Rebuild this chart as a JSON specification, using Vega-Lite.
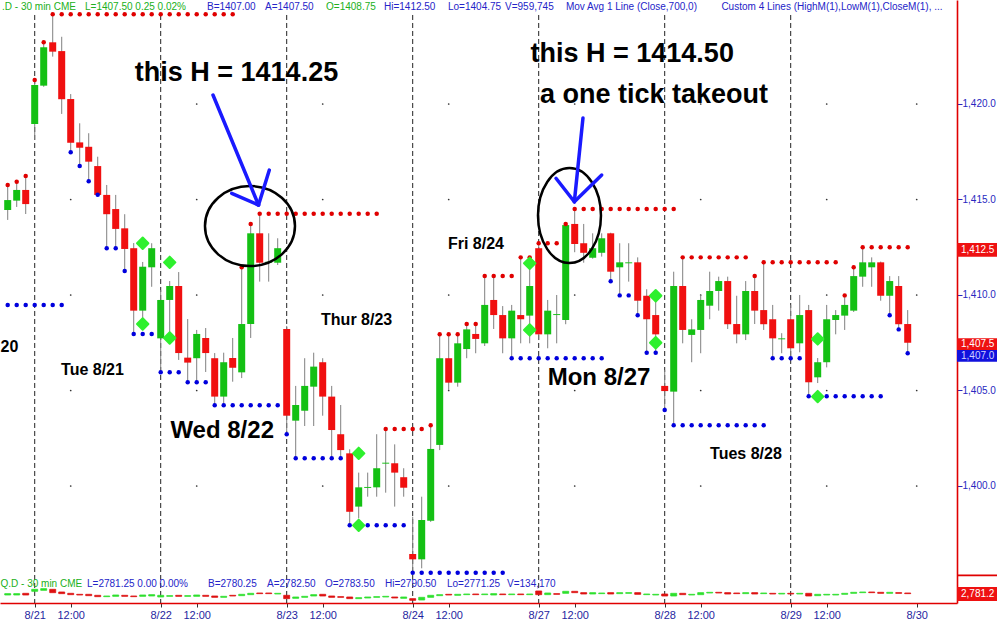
{
"$schema": "https://vega.github.io/schema/vega-lite/v6.json",
"width": 957,
"height": 603,
"autosize": {"type": "none"},
"padding": {"left": 0, "top": 0, "right": 40, "bottom": 19},
"background": "#ffffff",
"config": {"view": {"stroke": null}, "font": "Liberation Sans"},
"datasets": {
"bars": [
{"i":-3,"O":1414.45,"H":1415.76,"L":1413.93,"C":1414.97},
{"i":-2,"O":1414.94,"H":1415.93,"L":1414.61,"C":1415.50},
{"i":-1,"O":1415.50,"H":1416.23,"L":1414.24,"C":1414.76},
{"i":0,"O":1418.95,"H":1421.26,"L":1418.12,"C":1420.99},
{"i":1,"O":1420.96,"H":1423.23,"L":1420.90,"C":1422.97},
{"i":2,"O":1423.23,"H":1424.70,"L":1422.48,"C":1422.74},
{"i":3,"O":1422.77,"H":1423.52,"L":1419.48,"C":1420.25},
{"i":4,"O":1420.26,"H":1420.52,"L":1417.47,"C":1417.97},
{"i":5,"O":1417.99,"H":1418.99,"L":1416.75,"C":1417.71},
{"i":6,"O":1417.76,"H":1418.47,"L":1415.95,"C":1416.98},
{"i":7,"O":1416.75,"H":1417.24,"L":1415.20,"C":1415.24},
{"i":8,"O":1415.24,"H":1415.76,"L":1412.45,"C":1414.23},
{"i":9,"O":1414.50,"H":1415.24,"L":1412.45,"C":1413.46},
{"i":10,"O":1413.49,"H":1414.23,"L":1411.26,"C":1412.41},
{"i":11,"O":1412.45,"H":1412.72,"L":1407.96,"C":1409.18},
{"i":12,"O":1409.18,"H":1411.73,"L":1408.30,"C":1411.48},
{"i":13,"O":1411.45,"H":1412.71,"L":1410.43,"C":1412.45},
{"i":14,"O":1407.73,"H":1410.26,"L":1405.97,"C":1409.74},
{"i":15,"O":1409.74,"H":1410.73,"L":1407.91,"C":1410.47},
{"i":16,"O":1410.47,"H":1411.20,"L":1406.60,"C":1406.96},
{"i":17,"O":1406.72,"H":1408.74,"L":1405.45,"C":1406.46},
{"i":18,"O":1406.69,"H":1408.17,"L":1405.45,"C":1407.96},
{"i":19,"O":1407.75,"H":1408.27,"L":1405.97,"C":1406.96},
{"i":20,"O":1406.69,"H":1406.96,"L":1404.24,"C":1404.68},
{"i":21,"O":1404.68,"H":1406.98,"L":1404.24,"C":1406.48},
{"i":22,"O":1406.70,"H":1407.75,"L":1405.46,"C":1406.19},
{"i":23,"O":1405.95,"H":1411.45,"L":1405.65,"C":1408.48},
{"i":24,"O":1408.48,"H":1413.72,"L":1407.75,"C":1413.23},
{"i":25,"O":1413.23,"H":1414.25,"L":1410.70,"C":1411.69},
{"i":26,"O":1411.69,"H":1413.23,"L":1410.70,"C":1411.74},
{"i":27,"O":1411.69,"H":1412.97,"L":1411.57,"C":1412.45},
{"i":28,"O":1408.22,"H":1408.38,"L":1402.72,"C":1403.68},
{"i":29,"O":1403.42,"H":1405.24,"L":1401.45,"C":1404.24},
{"i":30,"O":1403.94,"H":1406.69,"L":1403.14,"C":1405.24},
{"i":31,"O":1405.20,"H":1406.98,"L":1403.14,"C":1406.25},
{"i":32,"O":1406.48,"H":1406.69,"L":1403.68,"C":1404.68},
{"i":33,"O":1404.68,"H":1405.24,"L":1401.45,"C":1402.93},
{"i":34,"O":1402.71,"H":1404.24,"L":1401.45,"C":1401.88},
{"i":35,"O":1401.71,"H":1401.92,"L":1397.94,"C":1398.65},
{"i":36,"O":1398.92,"H":1400.70,"L":1398.31,"C":1399.93},
{"i":37,"O":1399.90,"H":1400.70,"L":1399.44,"C":1399.95},
{"i":38,"O":1399.93,"H":1402.71,"L":1399.44,"C":1400.93},
{"i":39,"O":1401.17,"H":1402.98,"L":1399.65,"C":1401.22},
{"i":40,"O":1401.19,"H":1402.18,"L":1398.92,"C":1400.70},
{"i":41,"O":1400.46,"H":1400.93,"L":1399.44,"C":1399.91},
{"i":42,"O":1396.44,"H":1398.39,"L":1395.46,"C":1396.16},
{"i":43,"O":1396.16,"H":1399.44,"L":1395.69,"C":1398.22},
{"i":44,"O":1398.18,"H":1403.18,"L":1398.12,"C":1401.94},
{"i":45,"O":1402.15,"H":1407.94,"L":1401.88,"C":1406.69},
{"i":46,"O":1406.69,"H":1407.94,"L":1405.03,"C":1405.41},
{"i":47,"O":1405.41,"H":1407.94,"L":1405.20,"C":1407.47},
{"i":48,"O":1407.17,"H":1408.48,"L":1406.69,"C":1408.20},
{"i":49,"O":1407.96,"H":1408.48,"L":1406.95,"C":1407.70},
{"i":50,"O":1407.47,"H":1410.99,"L":1407.33,"C":1409.48},
{"i":51,"O":1409.74,"H":1410.99,"L":1408.22,"C":1408.95},
{"i":52,"O":1408.95,"H":1409.42,"L":1406.95,"C":1407.73},
{"i":53,"O":1407.73,"H":1409.48,"L":1406.69,"C":1409.18},
{"i":54,"O":1408.95,"H":1411.97,"L":1407.47,"C":1408.73},
{"i":55,"O":1408.92,"H":1411.97,"L":1407.47,"C":1410.47},
{"i":56,"O":1412.45,"H":1412.71,"L":1407.64,"C":1407.94},
{"i":57,"O":1407.94,"H":1409.74,"L":1407.21,"C":1409.18},
{"i":58,"O":1408.95,"H":1410.00,"L":1407.47,"C":1409.00},
{"i":59,"O":1408.69,"H":1413.72,"L":1408.47,"C":1413.66},
{"i":60,"O":1413.72,"H":1414.50,"L":1412.24,"C":1412.67},
{"i":61,"O":1412.71,"H":1413.72,"L":1411.69,"C":1412.21},
{"i":62,"O":1411.95,"H":1413.23,"L":1411.90,"C":1412.45},
{"i":63,"O":1412.21,"H":1413.23,"L":1412.01,"C":1412.97},
{"i":64,"O":1413.23,"H":1413.26,"L":1410.72,"C":1411.22},
{"i":65,"O":1411.45,"H":1412.71,"L":1410.00,"C":1411.71},
{"i":66,"O":1411.66,"H":1412.71,"L":1410.70,"C":1411.71},
{"i":67,"O":1411.71,"H":1411.97,"L":1408.94,"C":1409.70},
{"i":68,"O":1409.96,"H":1410.30,"L":1406.98,"C":1408.73},
{"i":69,"O":1408.95,"H":1409.74,"L":1406.98,"C":1407.94},
{"i":70,"O":1405.24,"H":1406.07,"L":1403.98,"C":1404.97},
{"i":71,"O":1404.94,"H":1411.22,"L":1403.18,"C":1410.47},
{"i":72,"O":1410.47,"H":1411.97,"L":1407.47,"C":1408.17},
{"i":73,"O":1407.91,"H":1408.73,"L":1406.48,"C":1408.20},
{"i":74,"O":1408.17,"H":1410.00,"L":1406.95,"C":1409.74},
{"i":75,"O":1409.44,"H":1411.22,"L":1408.73,"C":1410.21},
{"i":76,"O":1410.21,"H":1410.96,"L":1409.18,"C":1410.73},
{"i":77,"O":1410.73,"H":1410.96,"L":1408.22,"C":1408.47},
{"i":78,"O":1408.48,"H":1409.96,"L":1407.47,"C":1407.94},
{"i":79,"O":1407.94,"H":1410.73,"L":1407.64,"C":1410.21},
{"i":80,"O":1410.21,"H":1410.99,"L":1408.48,"C":1409.18},
{"i":81,"O":1409.21,"H":1411.71,"L":1408.17,"C":1408.47},
{"i":82,"O":1408.73,"H":1409.48,"L":1406.69,"C":1407.73},
{"i":83,"O":1407.68,"H":1408.00,"L":1406.95,"C":1407.73},
{"i":84,"O":1408.73,"H":1409.48,"L":1406.69,"C":1407.21},
{"i":85,"O":1407.47,"H":1410.00,"L":1407.00,"C":1408.95},
{"i":86,"O":1409.21,"H":1409.48,"L":1404.70,"C":1405.43},
{"i":87,"O":1405.69,"H":1406.70,"L":1405.39,"C":1406.48},
{"i":88,"O":1406.48,"H":1409.48,"L":1406.21,"C":1408.73},
{"i":89,"O":1408.69,"H":1409.21,"L":1407.94,"C":1408.95},
{"i":90,"O":1408.92,"H":1409.98,"L":1408.17,"C":1409.48},
{"i":91,"O":1409.18,"H":1411.45,"L":1409.11,"C":1410.99},
{"i":92,"O":1410.96,"H":1412.50,"L":1410.43,"C":1411.71},
{"i":93,"O":1411.45,"H":1411.97,"L":1410.43,"C":1411.71},
{"i":94,"O":1411.71,"H":1411.75,"L":1409.70,"C":1409.96},
{"i":95,"O":1409.96,"H":1410.99,"L":1408.94,"C":1410.73},
{"i":96,"O":1410.47,"H":1410.99,"L":1408.20,"C":1408.47},
{"i":97,"O":1408.48,"H":1409.21,"L":1406.95,"C":1407.50}
],
"nq": [
{"i":-3,"O":2778.33,"C":2780.67},{"i":-2,"O":2778.33,"C":2780.67},{"i":-1,"O":2781.25,"C":2778.33},
{"i":0,"O":2784.75,"C":2788.26},{"i":1,"O":2786.51,"C":2789.43},{"i":2,"O":2788.26,"C":2782.42},
{"i":3,"O":2783.59,"C":2780.67},{"i":4,"O":2781.25,"C":2778.91},{"i":5,"O":2779.50,"C":2778.33},
{"i":6,"O":2779.50,"C":2777.16},{"i":7,"O":2777.75,"C":2775.41},{"i":8,"O":2775.41,"C":2776.58},
{"i":9,"O":2775.99,"C":2778.33},{"i":10,"O":2777.75,"C":2775.99},{"i":11,"O":2776.58,"C":2775.41},
{"i":12,"O":2775.99,"C":2778.33},{"i":13,"O":2776.58,"C":2778.91},{"i":14,"O":2774.83,"C":2777.75},
{"i":15,"O":2775.99,"C":2777.16},{"i":16,"O":2777.75,"C":2775.99},{"i":17,"O":2775.99,"C":2777.16},
{"i":18,"O":2775.99,"C":2778.33},{"i":19,"O":2777.75,"C":2775.99},{"i":20,"O":2776.58,"C":2774.24},
{"i":21,"O":2774.24,"C":2775.99},{"i":22,"O":2777.75,"C":2776.58},{"i":23,"O":2777.16,"C":2779.50},
{"i":24,"O":2778.91,"C":2781.25},{"i":25,"O":2781.83,"C":2780.67},{"i":26,"O":2781.83,"C":2780.67},
{"i":27,"O":2780.08,"C":2781.25},{"i":28,"O":2777.75,"C":2771.91},{"i":29,"O":2772.49,"C":2774.83},
{"i":30,"O":2774.24,"C":2775.99},{"i":31,"O":2776.58,"C":2778.91},{"i":32,"O":2779.50,"C":2776.58},
{"i":33,"O":2776.58,"C":2774.24},{"i":34,"O":2775.41,"C":2774.24},{"i":35,"O":2774.83,"C":2771.91},
{"i":36,"O":2771.91,"C":2773.66},{"i":37,"O":2773.07,"C":2774.83},{"i":38,"O":2774.24,"C":2775.41},
{"i":39,"O":2774.83,"C":2775.99},{"i":40,"O":2774.83,"C":2773.07},{"i":41,"O":2772.49,"C":2774.83},
{"i":42,"O":2771.91,"C":2768.99},{"i":43,"O":2769.57,"C":2774.24},{"i":44,"O":2774.24,"C":2777.75},
{"i":45,"O":2777.16,"C":2778.91},{"i":46,"O":2779.50,"C":2778.33},{"i":47,"O":2777.75,"C":2779.50},
{"i":48,"O":2778.91,"C":2780.08},{"i":49,"O":2780.08,"C":2778.91},{"i":50,"O":2778.91,"C":2780.08},
{"i":51,"O":2778.33,"C":2780.67},{"i":52,"O":2780.08,"C":2778.91},{"i":53,"O":2778.91,"C":2780.08},
{"i":54,"O":2780.08,"C":2778.91},{"i":55,"O":2778.91,"C":2780.08},{"i":56,"O":2785.34,"C":2778.91},
{"i":57,"O":2778.91,"C":2781.83},{"i":58,"O":2780.67,"C":2779.50},{"i":59,"O":2781.25,"C":2784.75},
{"i":60,"O":2784.75,"C":2782.42},{"i":61,"O":2782.42,"C":2780.08},{"i":62,"O":2780.08,"C":2782.42},
{"i":63,"O":2780.67,"C":2781.83},{"i":64,"O":2782.42,"C":2780.08},{"i":65,"O":2780.67,"C":2782.42},
{"i":66,"O":2781.25,"C":2782.42},{"i":67,"O":2782.42,"C":2779.50},{"i":68,"O":2778.91,"C":2780.08},
{"i":69,"O":2778.33,"C":2779.50},{"i":70,"O":2780.08,"C":2776.58},{"i":71,"O":2776.58,"C":2781.25},
{"i":72,"O":2781.25,"C":2778.91},{"i":73,"O":2778.33,"C":2779.50},{"i":74,"O":2778.91,"C":2782.42},
{"i":75,"O":2781.83,"C":2783.00},{"i":76,"O":2783.00,"C":2781.83},{"i":77,"O":2782.42,"C":2780.08},
{"i":78,"O":2781.83,"C":2780.67},{"i":79,"O":2780.67,"C":2782.42},{"i":80,"O":2782.42,"C":2780.08},
{"i":81,"O":2780.67,"C":2781.83},{"i":82,"O":2781.25,"C":2780.08},{"i":83,"O":2780.08,"C":2781.25},
{"i":84,"O":2781.25,"C":2780.08},{"i":85,"O":2780.08,"C":2781.25},{"i":86,"O":2781.25,"C":2776.58},
{"i":87,"O":2777.16,"C":2779.50},{"i":88,"O":2778.33,"C":2779.50},{"i":89,"O":2778.33,"C":2779.50},
{"i":90,"O":2779.50,"C":2781.25},{"i":91,"O":2781.25,"C":2783.00},{"i":92,"O":2782.42,"C":2783.59},
{"i":93,"O":2783.59,"C":2782.42},{"i":94,"O":2783.00,"C":2781.25},{"i":95,"O":2781.25,"C":2783.00},
{"i":96,"O":2782.42,"C":2781.25},{"i":97,"O":2781.83,"C":2780.67}
],
"dots": [
{"i":-3,"p":1415.76,"k":"H"},{"i":-2,"p":1415.93,"k":"H"},{"i":-1,"p":1416.23,"k":"H"},{"i":0,"p":1421.26,"k":"H"},{"i":1,"p":1423.23,"k":"H"},
{"i":2,"p":1424.7,"k":"H"},{"i":3,"p":1424.7,"k":"H"},{"i":4,"p":1424.7,"k":"H"},{"i":5,"p":1424.7,"k":"H"},{"i":6,"p":1424.7,"k":"H"},{"i":7,"p":1424.7,"k":"H"},{"i":8,"p":1424.7,"k":"H"},{"i":9,"p":1424.7,"k":"H"},{"i":10,"p":1424.7,"k":"H"},{"i":11,"p":1424.7,"k":"H"},{"i":12,"p":1424.7,"k":"H"},{"i":13,"p":1424.7,"k":"H"},{"i":14,"p":1424.7,"k":"H"},{"i":15,"p":1424.7,"k":"H"},{"i":16,"p":1424.7,"k":"H"},{"i":17,"p":1424.7,"k":"H"},{"i":18,"p":1424.7,"k":"H"},{"i":19,"p":1424.7,"k":"H"},{"i":20,"p":1424.7,"k":"H"},{"i":21,"p":1424.7,"k":"H"},{"i":22,"p":1424.7,"k":"H"},
{"i":23,"p":1411.45,"k":"H"},{"i":24,"p":1413.72,"k":"H"},
{"i":25,"p":1414.25,"k":"H"},{"i":26,"p":1414.25,"k":"H"},{"i":27,"p":1414.25,"k":"H"},{"i":28,"p":1414.25,"k":"H"},{"i":29,"p":1414.25,"k":"H"},{"i":30,"p":1414.25,"k":"H"},{"i":31,"p":1414.25,"k":"H"},{"i":32,"p":1414.25,"k":"H"},{"i":33,"p":1414.25,"k":"H"},{"i":34,"p":1414.25,"k":"H"},{"i":35,"p":1414.25,"k":"H"},{"i":36,"p":1414.25,"k":"H"},{"i":37,"p":1414.25,"k":"H"},{"i":38,"p":1414.25,"k":"H"},
{"i":39,"p":1402.98,"k":"H"},{"i":40,"p":1402.98,"k":"H"},{"i":41,"p":1402.98,"k":"H"},{"i":42,"p":1402.98,"k":"H"},{"i":43,"p":1402.98,"k":"H"},{"i":44,"p":1403.18,"k":"H"},
{"i":45,"p":1407.94,"k":"H"},{"i":46,"p":1407.94,"k":"H"},{"i":47,"p":1407.94,"k":"H"},{"i":48,"p":1408.48,"k":"H"},{"i":49,"p":1408.48,"k":"H"},
{"i":50,"p":1410.99,"k":"H"},{"i":51,"p":1410.99,"k":"H"},{"i":52,"p":1410.99,"k":"H"},{"i":53,"p":1410.99,"k":"H"},
{"i":54,"p":1411.97,"k":"H"},{"i":55,"p":1411.97,"k":"H"},{"i":56,"p":1412.71,"k":"H"},{"i":57,"p":1412.71,"k":"H"},{"i":58,"p":1412.71,"k":"H"},{"i":59,"p":1413.72,"k":"H"},
{"i":60,"p":1414.5,"k":"H"},{"i":61,"p":1414.5,"k":"H"},{"i":62,"p":1414.5,"k":"H"},{"i":63,"p":1414.5,"k":"H"},{"i":64,"p":1414.5,"k":"H"},{"i":65,"p":1414.5,"k":"H"},{"i":66,"p":1414.5,"k":"H"},{"i":67,"p":1414.5,"k":"H"},{"i":68,"p":1414.5,"k":"H"},{"i":69,"p":1414.5,"k":"H"},{"i":70,"p":1414.5,"k":"H"},{"i":71,"p":1414.5,"k":"H"},
{"i":72,"p":1411.97,"k":"H"},{"i":73,"p":1411.97,"k":"H"},{"i":74,"p":1411.97,"k":"H"},{"i":75,"p":1411.97,"k":"H"},{"i":76,"p":1411.97,"k":"H"},{"i":77,"p":1411.97,"k":"H"},{"i":78,"p":1411.97,"k":"H"},{"i":79,"p":1411.97,"k":"H"},
{"i":80,"p":1410.99,"k":"H"},
{"i":81,"p":1411.71,"k":"H"},{"i":82,"p":1411.71,"k":"H"},{"i":83,"p":1411.71,"k":"H"},{"i":84,"p":1411.71,"k":"H"},{"i":85,"p":1411.71,"k":"H"},{"i":86,"p":1411.71,"k":"H"},{"i":87,"p":1411.71,"k":"H"},{"i":88,"p":1411.71,"k":"H"},{"i":89,"p":1411.71,"k":"H"},
{"i":90,"p":1409.98,"k":"H"},{"i":91,"p":1411.45,"k":"H"},
{"i":92,"p":1412.5,"k":"H"},{"i":93,"p":1412.5,"k":"H"},{"i":94,"p":1412.5,"k":"H"},{"i":95,"p":1412.5,"k":"H"},{"i":96,"p":1412.5,"k":"H"},{"i":97,"p":1412.5,"k":"H"},
{"i":-3,"p":1409.48,"k":"L"},{"i":-2,"p":1409.48,"k":"L"},{"i":-1,"p":1409.48,"k":"L"},{"i":0,"p":1409.48,"k":"L"},{"i":1,"p":1409.48,"k":"L"},{"i":2,"p":1409.48,"k":"L"},{"i":3,"p":1409.48,"k":"L"},
{"i":4,"p":1417.47,"k":"L"},{"i":5,"p":1416.75,"k":"L"},{"i":6,"p":1415.95,"k":"L"},{"i":7,"p":1415.25,"k":"L"},{"i":8,"p":1412.45,"k":"L"},{"i":9,"p":1412.45,"k":"L"},{"i":10,"p":1411.26,"k":"L"},
{"i":11,"p":1407.96,"k":"L"},{"i":12,"p":1407.96,"k":"L"},{"i":13,"p":1407.96,"k":"L"},
{"i":14,"p":1405.95,"k":"L"},{"i":15,"p":1405.95,"k":"L"},{"i":16,"p":1405.95,"k":"L"},
{"i":17,"p":1405.43,"k":"L"},{"i":18,"p":1405.43,"k":"L"},{"i":19,"p":1405.43,"k":"L"},
{"i":20,"p":1404.23,"k":"L"},{"i":21,"p":1404.23,"k":"L"},{"i":22,"p":1404.23,"k":"L"},{"i":23,"p":1404.23,"k":"L"},{"i":24,"p":1404.23,"k":"L"},{"i":25,"p":1404.23,"k":"L"},{"i":26,"p":1404.23,"k":"L"},{"i":27,"p":1404.23,"k":"L"},
{"i":28,"p":1402.71,"k":"L"},
{"i":29,"p":1401.45,"k":"L"},{"i":30,"p":1401.45,"k":"L"},{"i":31,"p":1401.45,"k":"L"},{"i":32,"p":1401.45,"k":"L"},{"i":33,"p":1401.45,"k":"L"},{"i":34,"p":1401.45,"k":"L"},
{"i":35,"p":1397.94,"k":"L"},{"i":36,"p":1397.94,"k":"L"},{"i":37,"p":1397.94,"k":"L"},{"i":38,"p":1397.94,"k":"L"},{"i":39,"p":1397.94,"k":"L"},{"i":40,"p":1397.94,"k":"L"},{"i":41,"p":1397.94,"k":"L"},
{"i":42,"p":1395.46,"k":"L"},{"i":43,"p":1395.46,"k":"L"},{"i":44,"p":1395.46,"k":"L"},{"i":45,"p":1395.46,"k":"L"},{"i":46,"p":1395.46,"k":"L"},{"i":47,"p":1395.46,"k":"L"},{"i":48,"p":1395.46,"k":"L"},{"i":49,"p":1395.46,"k":"L"},{"i":50,"p":1395.46,"k":"L"},{"i":51,"p":1395.46,"k":"L"},{"i":52,"p":1395.46,"k":"L"},
{"i":53,"p":1406.69,"k":"L"},{"i":54,"p":1406.69,"k":"L"},{"i":55,"p":1406.69,"k":"L"},{"i":56,"p":1406.69,"k":"L"},{"i":57,"p":1406.69,"k":"L"},{"i":58,"p":1406.69,"k":"L"},{"i":59,"p":1406.69,"k":"L"},{"i":60,"p":1406.69,"k":"L"},{"i":61,"p":1406.69,"k":"L"},{"i":62,"p":1406.69,"k":"L"},{"i":63,"p":1406.69,"k":"L"},
{"i":64,"p":1410.72,"k":"L"},{"i":65,"p":1409.98,"k":"L"},{"i":66,"p":1409.98,"k":"L"},{"i":67,"p":1408.94,"k":"L"},{"i":68,"p":1406.98,"k":"L"},{"i":69,"p":1406.98,"k":"L"},{"i":70,"p":1403.98,"k":"L"},
{"i":71,"p":1403.18,"k":"L"},{"i":72,"p":1403.18,"k":"L"},{"i":73,"p":1403.18,"k":"L"},{"i":74,"p":1403.18,"k":"L"},{"i":75,"p":1403.18,"k":"L"},{"i":76,"p":1403.18,"k":"L"},{"i":77,"p":1403.18,"k":"L"},{"i":78,"p":1403.18,"k":"L"},{"i":79,"p":1403.18,"k":"L"},{"i":80,"p":1403.18,"k":"L"},{"i":81,"p":1403.18,"k":"L"},
{"i":82,"p":1406.69,"k":"L"},{"i":83,"p":1406.69,"k":"L"},{"i":84,"p":1406.69,"k":"L"},{"i":85,"p":1406.69,"k":"L"},
{"i":86,"p":1404.7,"k":"L"},{"i":87,"p":1404.7,"k":"L"},{"i":88,"p":1404.7,"k":"L"},{"i":89,"p":1404.7,"k":"L"},{"i":90,"p":1404.7,"k":"L"},{"i":91,"p":1404.7,"k":"L"},{"i":92,"p":1404.7,"k":"L"},{"i":93,"p":1404.7,"k":"L"},{"i":94,"p":1404.7,"k":"L"},
{"i":95,"p":1408.94,"k":"L"},{"i":96,"p":1408.2,"k":"L"},{"i":97,"p":1406.95,"k":"L"}
],
"diam": [
{"i":12,"p":1412.71},{"i":12,"p":1408.48},{"i":15,"p":1411.71},{"i":15,"p":1407.75},
{"i":36,"p":1401.71},{"i":36,"p":1397.94},{"i":55,"p":1411.66},{"i":55,"p":1408.17},
{"i":69,"p":1409.96},{"i":69,"p":1407.5},{"i":87,"p":1407.7},{"i":87,"p":1404.68}
],
"days": [{"i":0},{"i":14},{"i":28},{"i":42},{"i":56},{"i":70},{"i":84}],
"grid": [
{"i":4,"p":1400},{"i":4,"p":1405},{"i":4,"p":1410},{"i":4,"p":1415},{"i":4,"p":1420},
{"i":18,"p":1400},{"i":18,"p":1405},{"i":18,"p":1410},{"i":18,"p":1415},{"i":18,"p":1420},
{"i":32,"p":1400},{"i":32,"p":1405},{"i":32,"p":1410},{"i":32,"p":1415},{"i":32,"p":1420},
{"i":46,"p":1400},{"i":46,"p":1405},{"i":46,"p":1410},{"i":46,"p":1415},{"i":46,"p":1420},
{"i":60,"p":1400},{"i":60,"p":1405},{"i":60,"p":1410},{"i":60,"p":1415},{"i":60,"p":1420},
{"i":74,"p":1400},{"i":74,"p":1405},{"i":74,"p":1410},{"i":74,"p":1415},{"i":74,"p":1420},
{"i":88,"p":1400},{"i":88,"p":1405},{"i":88,"p":1410},{"i":88,"p":1415},{"i":88,"p":1420},
{"i":98,"p":1400},{"i":98,"p":1405},{"i":98,"p":1410},{"i":98,"p":1415},{"i":98,"p":1420}
],
"arrows": [
{"i":19.81,"p":1420.47,"i2":24.87,"p2":1414.71},
{"i":21.89,"p":1415.32,"i2":24.87,"p2":1414.71},
{"i":26.07,"p":1416.54,"i2":24.87,"p2":1414.71},
{"i":60.92,"p":1419.27,"i2":59.96,"p2":1414.88},
{"i":57.92,"p":1416.11,"i2":59.96,"p2":1414.88},
{"i":63.0,"p":1416.28,"i2":59.96,"p2":1414.88}
],
"legendTop": [
{"i":-3.63,"t":".D - 30 min  CME","g":"g"},
{"i":5.59,"t":"L=1407.50  0.25  0.02%","g":"g"},
{"i":19.14,"t":"B=1407.00","g":"b"},
{"i":25.59,"t":"A=1407.50","g":"b"},
{"i":32.37,"t":"O=1408.75","g":"g"},
{"i":38.81,"t":"Hi=1412.50","g":"b"},
{"i":45.92,"t":"Lo=1404.75","g":"b"},
{"i":52.26,"t":"V=959,745","g":"b"},
{"i":59.03,"t":"Mov Avg 1 Line (Close,700,0)","g":"b"},
{"i":76.3,"t":"Custom 4 Lines (HighM(1),LowM(1),CloseM(1), ...","g":"b"}
],
"legendLow": [
{"i":-3.8,"t":"Q.D - 30 min  CME","g":"g"},
{"i":5.81,"t":"L=2781.25  0.00  0.00%","g":"b"},
{"i":19.26,"t":"B=2780.25","g":"b"},
{"i":25.81,"t":"A=2782.50","g":"b"},
{"i":32.25,"t":"O=2783.50","g":"b"},
{"i":38.92,"t":"Hi=2790.50","g":"b"},
{"i":45.81,"t":"Lo=2771.25","g":"b"},
{"i":52.48,"t":"V=134,170","g":"b"}
]
},
"layer": [
{"data": {"name": "days"},
"mark": {"type": "rule", "color": "#222222", "strokeWidth": 1, "strokeDash": [5, 3]},
"encoding": {
"x": {"field": "i", "type": "quantitative", "scale": {"domain": [-3.856, 102.478], "nice": false, "zero": false, "padding": 0},
"axis": {"orient": "bottom", "values": [0,4,14,18,28,32,42,46,56,60,70,74,84,88,98],
"labelExpr": "datum.value == 0 ? '8/21' : datum.value == 14 ? '8/22' : datum.value == 28 ? '8/23' : datum.value == 42 ? '8/24' : datum.value == 56 ? '8/27' : datum.value == 70 ? '8/28' : datum.value == 84 ? '8/29' : datum.value == 98 ? '8/30' : '12:00'",
"title": null, "grid": false, "domainColor": "#e00000", "domainWidth": 1.6,
"tickColor": "#333333", "tickSize": 4, "labelColor": "#1f1fa0",
"labelFont": "Liberation Sans", "labelFontSize": 11, "labelPadding": 2,
"labelFlush": false, "labelOverlap": false}},
"y": {"datum": 1424.66, "type": "quantitative", "scale": {"domain": [1393.874, 1425.445], "nice": false, "zero": false}, "axis": null},
"y2": {"datum": 1393.874}}},
{"data": {"name": "grid"},
"mark": {"type": "point", "filled": true, "size": 3, "color": "#333333", "opacity": 1},
"encoding": {
"x": {"field": "i", "type": "quantitative", "scale": {"domain": [-3.856, 102.478], "nice": false, "zero": false, "padding": 0}, "axis": null},
"y": {"field": "p", "type": "quantitative", "scale": {"domain": [1393.874, 1425.445], "nice": false, "zero": false}, "axis": null}}},
{"data": {"name": "bars"},
"mark": {"type": "rule", "color": "#808080", "strokeWidth": 1},
"encoding": {
"x": {"field": "i", "type": "quantitative", "scale": {"domain": [-3.856, 102.478], "nice": false, "zero": false, "padding": 0}, "axis": null},
"y": {"field": "L", "type": "quantitative", "scale": {"domain": [1393.874, 1425.445], "nice": false, "zero": false},
"axis": {"orient": "right", "values": [1400, 1405, 1410, 1415, 1420], "format": ",.1f", "title": null, "grid": false,
"domainColor": "#e00000", "domainWidth": 1.6, "tickColor": "#2828c0", "tickSize": 5,
"labelColor": "#2828c0", "labelFont": "Liberation Sans", "labelFontSize": 10, "labelPadding": 0}},
"y2": {"field": "H"}}},
{"data": {"name": "bars"},
"mark": {"type": "bar", "size": 7},
"encoding": {
"x": {"field": "i", "type": "quantitative", "scale": {"domain": [-3.856, 102.478], "nice": false, "zero": false, "padding": 0}, "axis": null},
"y": {"field": "O", "type": "quantitative", "scale": {"domain": [1393.874, 1425.445], "nice": false, "zero": false}, "axis": null},
"y2": {"field": "C"},
"color": {"condition": {"test": "datum.C >= datum.O", "value": "#14c014"}, "value": "#f01010"}}},
{"data": {"name": "dots"},
"mark": {"type": "point", "filled": true, "size": 20, "opacity": 1},
"encoding": {
"x": {"field": "i", "type": "quantitative", "scale": {"domain": [-3.856, 102.478], "nice": false, "zero": false, "padding": 0}, "axis": null},
"y": {"field": "p", "type": "quantitative", "scale": {"domain": [1393.874, 1425.445], "nice": false, "zero": false}, "axis": null},
"color": {"condition": {"test": "datum.k == 'H'", "value": "#e00000"}, "value": "#0000dd"}}},
{"data": {"name": "diam"},
"mark": {"type": "point", "shape": "diamond", "filled": true, "size": 130, "color": "#2ef02e", "stroke": "#2ef02e", "strokeWidth": 2, "strokeJoin": "round", "opacity": 1},
"encoding": {
"x": {"field": "i", "type": "quantitative", "scale": {"domain": [-3.856, 102.478], "nice": false, "zero": false, "padding": 0}, "axis": null},
"y": {"field": "p", "type": "quantitative", "scale": {"domain": [1393.874, 1425.445], "nice": false, "zero": false}, "axis": null}}},
{"data": {"values": [{"i": 23.92, "p": 1413.61}]},
"mark": {"type": "point", "shape": "M-1,0C-1,-0.491,-0.552,-0.889,0,-0.889C0.552,-0.889,1,-0.491,1,0C1,0.491,0.552,0.889,0,0.889C-0.552,0.889,-1,0.491,-1,0Z", "filled": false, "size": 8100, "stroke": "#000000", "strokeWidth": 2.5, "opacity": 1},
"encoding": {
"x": {"field": "i", "type": "quantitative", "scale": {"domain": [-3.856, 102.478], "nice": false, "zero": false, "padding": 0}, "axis": null},
"y": {"field": "p", "type": "quantitative", "scale": {"domain": [1393.874, 1425.445], "nice": false, "zero": false}, "axis": null}}},
{"data": {"values": [{"i": 59.42, "p": 1414.16}]},
"mark": {"type": "point", "shape": "M-0.663,0C-0.663,-0.552,-0.366,-1,0,-1C0.366,-1,0.663,-0.552,0.663,0C0.663,0.552,0.366,1,0,1C-0.366,1,-0.663,0.552,-0.663,0Z", "filled": false, "size": 9025, "stroke": "#000000", "strokeWidth": 2.5, "opacity": 1},
"encoding": {
"x": {"field": "i", "type": "quantitative", "scale": {"domain": [-3.856, 102.478], "nice": false, "zero": false, "padding": 0}, "axis": null},
"y": {"field": "p", "type": "quantitative", "scale": {"domain": [1393.874, 1425.445], "nice": false, "zero": false}, "axis": null}}},
{"data": {"name": "arrows"},
"mark": {"type": "rule", "color": "#1a1aff", "strokeWidth": 3.5, "strokeCap": "round"},
"encoding": {
"x": {"field": "i", "type": "quantitative", "scale": {"domain": [-3.856, 102.478], "nice": false, "zero": false, "padding": 0}, "axis": null},
"x2": {"field": "i2"},
"y": {"field": "p", "type": "quantitative", "scale": {"domain": [1393.874, 1425.445], "nice": false, "zero": false}, "axis": null},
"y2": {"field": "p2"}}},
{"data": {"values": [{"i": 22.42, "p": 1421.62, "t": "this H = 1414.25"}, {"i": 66.39, "p": 1422.62, "t": "this H = 1414.50"}, {"i": 68.81, "p": 1420.47, "t": "a one tick takeout"}]},
"mark": {"type": "text", "font": "Liberation Sans", "fontWeight": "bold", "fontSize": 27, "color": "#000000", "align": "center", "baseline": "middle"},
"encoding": {
"x": {"field": "i", "type": "quantitative", "scale": {"domain": [-3.856, 102.478], "nice": false, "zero": false, "padding": 0}, "axis": null},
"y": {"field": "p", "type": "quantitative", "scale": {"domain": [1393.874, 1425.445], "nice": false, "zero": false}, "axis": null},
"text": {"field": "t"}}},
{"data": {"values": [{"i": 20.83, "p": 1402.88, "t": "Wed 8/22"}, {"i": 62.7, "p": 1405.65, "t": "Mon 8/27"}]},
"mark": {"type": "text", "font": "Liberation Sans", "fontWeight": "bold", "fontSize": 24, "color": "#000000", "align": "center", "baseline": "middle"},
"encoding": {
"x": {"field": "i", "type": "quantitative", "scale": {"domain": [-3.856, 102.478], "nice": false, "zero": false, "padding": 0}, "axis": null},
"y": {"field": "p", "type": "quantitative", "scale": {"domain": [1393.874, 1425.445], "nice": false, "zero": false}, "axis": null},
"text": {"field": "t"}}},
{"data": {"values": [{"i": 6.42, "p": 1406.07, "t": "Tue 8/21"}, {"i": 35.77, "p": 1408.69, "t": "Thur 8/23"}, {"i": 49.03, "p": 1412.67, "t": "Fri 8/24"}, {"i": 79.03, "p": 1401.68, "t": "Tues 8/28"}]},
"mark": {"type": "text", "font": "Liberation Sans", "fontWeight": "bold", "fontSize": 16, "color": "#000000", "align": "center", "baseline": "middle"},
"encoding": {
"x": {"field": "i", "type": "quantitative", "scale": {"domain": [-3.856, 102.478], "nice": false, "zero": false, "padding": 0}, "axis": null},
"y": {"field": "p", "type": "quantitative", "scale": {"domain": [1393.874, 1425.445], "nice": false, "zero": false}, "axis": null},
"text": {"field": "t"}}},
{"data": {"values": [{"i": -3.8, "p": 1407.29, "t": "20"}]},
"mark": {"type": "text", "font": "Liberation Sans", "fontWeight": "bold", "fontSize": 16, "color": "#000000", "align": "left", "baseline": "middle"},
"encoding": {
"x": {"field": "i", "type": "quantitative", "scale": {"domain": [-3.856, 102.478], "nice": false, "zero": false, "padding": 0}, "axis": null},
"y": {"field": "p", "type": "quantitative", "scale": {"domain": [1393.874, 1425.445], "nice": false, "zero": false}, "axis": null},
"text": {"field": "t"}}},
{"data": {"name": "legendTop"},
"mark": {"type": "text", "font": "Liberation Sans", "fontSize": 10, "align": "left", "baseline": "middle"},
"encoding": {
"x": {"field": "i", "type": "quantitative", "scale": {"domain": [-3.856, 102.478], "nice": false, "zero": false, "padding": 0}, "axis": null},
"y": {"datum": 1425.08, "type": "quantitative", "scale": {"domain": [1393.874, 1425.445], "nice": false, "zero": false}, "axis": null},
"text": {"field": "t"},
"color": {"condition": {"test": "datum.g == 'g'", "value": "#20b020"}, "value": "#2424c8"}}},
{"data": {"name": "legendLow"},
"mark": {"type": "text", "font": "Liberation Sans", "fontSize": 10, "align": "left", "baseline": "middle"},
"encoding": {
"x": {"field": "i", "type": "quantitative", "scale": {"domain": [-3.856, 102.478], "nice": false, "zero": false, "padding": 0}, "axis": null},
"y": {"datum": 1394.88, "type": "quantitative", "scale": {"domain": [1393.874, 1425.445], "nice": false, "zero": false}, "axis": null},
"text": {"field": "t"},
"color": {"condition": {"test": "datum.g == 'g'", "value": "#20b020"}, "value": "#2424c8"}}},
{"data": {"values": [{"p": 1406.51, "p2": 1407.12}]},
"mark": {"type": "rect", "color": "#1111dd"},
"encoding": {
"x": {"datum": 102.478, "type": "quantitative", "scale": {"domain": [-3.856, 102.478], "nice": false, "zero": false, "padding": 0}, "axis": null},
"x2": {"datum": 106.95},
"y": {"field": "p", "type": "quantitative", "scale": {"domain": [1393.874, 1425.445], "nice": false, "zero": false}, "axis": null},
"y2": {"field": "p2"}}},
{"data": {"values": [{"p": 1406.81, "t": "1,407.0"}]},
"mark": {"type": "text", "font": "Liberation Sans", "fontSize": 10, "align": "left", "baseline": "middle", "color": "#d0d0ff"},
"encoding": {
"x": {"datum": 102.92, "type": "quantitative", "scale": {"domain": [-3.856, 102.478], "nice": false, "zero": false, "padding": 0}, "axis": null},
"y": {"field": "p", "type": "quantitative", "scale": {"domain": [1393.874, 1425.445], "nice": false, "zero": false}, "axis": null},
"text": {"field": "t"}}},
{"data": {"values": [{"p": 1412.0, "p2": 1412.72}, {"p": 1407.12, "p2": 1407.73}]},
"mark": {"type": "rect", "color": "#ee1111"},
"encoding": {
"x": {"datum": 102.478, "type": "quantitative", "scale": {"domain": [-3.856, 102.478], "nice": false, "zero": false, "padding": 0}, "axis": null},
"x2": {"datum": 106.95},
"y": {"field": "p", "type": "quantitative", "scale": {"domain": [1393.874, 1425.445], "nice": false, "zero": false}, "axis": null},
"y2": {"field": "p2"}}},
{"data": {"values": [{"p": 1412.36, "t": "1,412.5"}, {"p": 1407.43, "t": "1,407.5"}]},
"mark": {"type": "text", "font": "Liberation Sans", "fontSize": 10, "align": "left", "baseline": "middle", "color": "#ffffff"},
"encoding": {
"x": {"datum": 102.92, "type": "quantitative", "scale": {"domain": [-3.856, 102.478], "nice": false, "zero": false, "padding": 0}, "axis": null},
"y": {"field": "p", "type": "quantitative", "scale": {"domain": [1393.874, 1425.445], "nice": false, "zero": false}, "axis": null},
"text": {"field": "t"}}},
{"data": {"values": [{"p": 1395.32}]},
"mark": {"type": "rule", "color": "#e00000", "strokeWidth": 1.6},
"encoding": {
"x": {"datum": 102.478, "type": "quantitative", "scale": {"domain": [-3.856, 102.478], "nice": false, "zero": false, "padding": 0}, "axis": null},
"x2": {"datum": 106.95},
"y": {"field": "p", "type": "quantitative", "scale": {"domain": [1393.874, 1425.445], "nice": false, "zero": false}, "axis": null}}},
{"data": {"name": "nq"},
"mark": {"type": "bar", "size": 6, "strokeWidth": 0.8},
"encoding": {
"x": {"field": "i", "type": "quantitative", "scale": {"domain": [-3.856, 102.478], "nice": false, "zero": false, "padding": 0}, "axis": null},
"y": {"field": "O", "type": "quantitative", "scale": {"domain": [2764.3, 3820.7], "nice": false, "zero": false}, "axis": null},
"y2": {"field": "C"},
"color": {"condition": {"test": "datum.C >= datum.O", "value": "#2ee02e"}, "value": "#dd1111"},
"stroke": {"condition": {"test": "datum.C >= datum.O", "value": "#2ee02e"}, "value": "#dd1111"}}},
{"data": {"values": [{"p": 2767.8, "p2": 2792.3}]},
"mark": {"type": "rect", "color": "#ee1111"},
"encoding": {
"x": {"datum": 102.478, "type": "quantitative", "scale": {"domain": [-3.856, 102.478], "nice": false, "zero": false, "padding": 0}, "axis": null},
"x2": {"datum": 106.95},
"y": {"field": "p", "type": "quantitative", "scale": {"domain": [2764.3, 3820.7], "nice": false, "zero": false}, "axis": null},
"y2": {"field": "p2"}}},
{"data": {"values": [{"p": 2780.1, "t": "2,781.2"}]},
"mark": {"type": "text", "font": "Liberation Sans", "fontSize": 10, "align": "left", "baseline": "middle", "color": "#ffffff"},
"encoding": {
"x": {"datum": 102.92, "type": "quantitative", "scale": {"domain": [-3.856, 102.478], "nice": false, "zero": false, "padding": 0}, "axis": null},
"y": {"field": "p", "type": "quantitative", "scale": {"domain": [2764.3, 3820.7], "nice": false, "zero": false}, "axis": null},
"text": {"field": "t"}}}
],
"resolve": {"scale": {"y": "independent"}, "axis": {"x": "independent"}}
}
